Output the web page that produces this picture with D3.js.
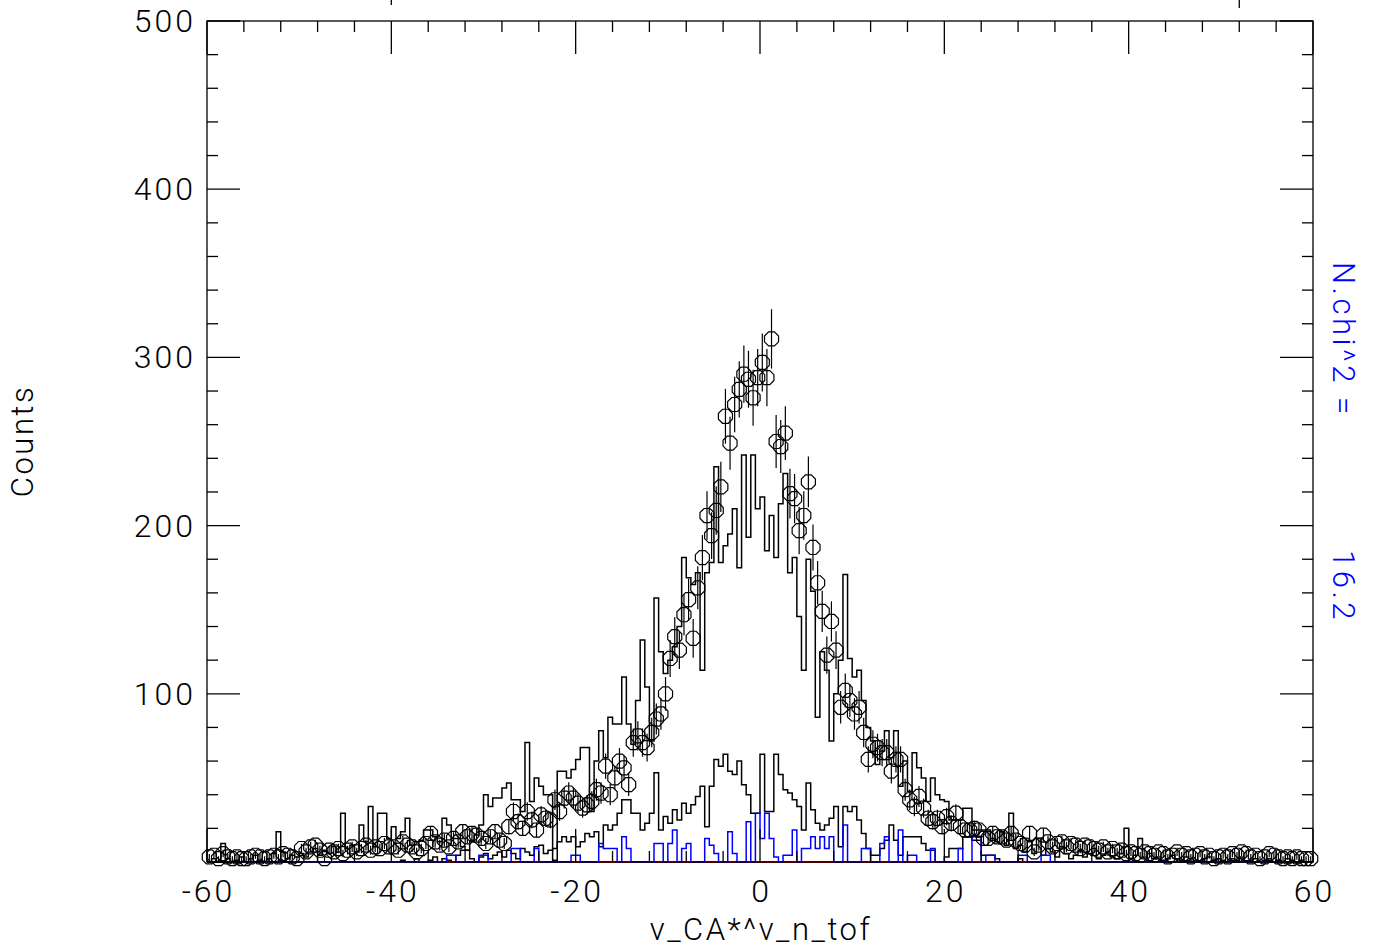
<!DOCTYPE html>
<html><head><meta charset="utf-8">
<script src="https://cdn.jsdelivr.net/npm/d3@7"></script>
<style>
html,body{margin:0;padding:0;background:#fff;}
svg text{font-family:"Roboto","DejaVu Sans",sans-serif;font-weight:300;}
</style></head>
<body><svg id="c" width="1377" height="951"></svg>
<script>
// ---- data (bins of width 0.5 from -60 to 60, 240 bins) ----
const xTicks = [-60, -40, -20, 0, 20, 40, 60];
const yTicks = [0, 100, 200, 300, 400, 500];
const yTickLabels = ["", "100", "200", "300", "400", "500"];
const binStart = -60, binWidth = 0.5;

// data points (circles with error bars)
const dataCounts = [
 3,4,2,5,3,2,3,2,2,3,4,3,2,3,4,3,5,4,3,2,
 8,6,9,10,7,2,7,6,8,5,7,9,6,8,10,7,9,8,11,9,
 9,7,12,10,9,6,8,11,17,12,10,13,9,14,12,18,15,17,16,14,
 11,15,18,13,11,21,30,24,20,30,25,19,28,26,25,37,30,38,41,38,
 35,32,34,36,43,41,57,40,50,60,56,46,71,75,71,68,77,85,88,100,
 121,134,126,147,156,133,163,181,206,194,209,223,265,249,272,281,290,287,276,288,
 297,288,311,250,247,255,219,216,197,206,226,187,166,149,123,143,126,92,102,96,
 88,92,77,61,70,68,65,65,54,61,61,43,37,33,39,32,26,24,26,21,
 27,23,29,21,19,19,20,19,14,14,17,15,15,13,17,13,11,10,17,6,
 10,16,12,9,11,12,9,11,10,8,10,9,8,7,9,6,8,6,7,5,
 6,5,4,6,5,4,6,5,3,4,6,4,5,3,4,5,3,4,2,3,
 4,3,5,4,6,5,3,4,2,3,5,4,3,2,3,2,3,2,2,2];

// large black histogram
const histMain = [
 0,2,0,11,2,0,1,3,0,2,4,1,0,2,5,18,6,2,4,3,
 5,3,6,8,4,7,5,9,6,29,8,10,6,22,12,33,9,29,29,14,
 21,14,18,26,10,12,13,19,19,15,12,26,22,14,14,9,7,12,16,22,
 40,33,38,38,44,47,37,37,30,71,36,50,45,40,40,1,54,54,50,55,
 61,68,68,30,60,78,62,86,82,82,110,82,70,96,132,104,72,157,125,112,
 120,128,140,181,169,165,172,114,172,178,235,178,188,195,210,175,242,193,242,210,
 217,185,206,181,213,231,172,181,146,114,180,161,86,125,114,72,100,120,171,121,
 110,114,96,80,72,58,66,78,62,78,45,60,42,65,56,50,36,50,40,37,
 36,25,25,25,32,32,19,19,19,19,14,12,18,10,29,8,10,6,12,5,
 14,4,8,6,3,9,5,2,4,7,3,5,8,2,4,6,3,2,5,20,
 2,4,14,3,5,2,3,1,2,4,2,1,3,2,1,0,2,3,1,2,
 1,0,2,1,3,0,1,2,0,1,2,0,1,0,2,1,0,1,0,0];

// small black histogram
const histSmall = [
 0,0,0,0,0,0,0,0,0,0,0,0,0,0,0,0,0,0,0,0,
 0,0,0,0,0,0,0,0,0,0,0,0,0,0,0,0,0,0,0,0,
 0,0,1,0,0,2,0,0,1,3,0,2,1,0,4,7,7,2,0,3,
 5,2,4,6,3,7,5,2,8,6,4,9,10,5,7,8,12,15,12,15,
 9,12,17,15,18,9,22,19,22,29,37,37,29,29,19,23,29,53,19,27,
 23,31,25,35,29,34,39,45,21,45,61,57,64,54,52,60,46,40,29,29,
 64,30,30,64,52,43,41,37,33,19,47,31,23,19,22,26,33,9,33,30,
 33,25,17,8,4,4,8,13,22,13,4,15,15,15,15,11,7,7,0,0,
 3,8,8,8,15,15,13,13,4,4,4,2,0,0,0,0,2,0,0,0,
 0,0,0,0,0,0,0,0,0,0,0,0,0,0,0,0,0,0,0,0,
 0,0,0,0,0,0,0,0,0,0,0,0,0,0,0,0,0,0,0,0,
 0,0,0,0,0,0,0,0,0,0,0,0,0,0,0,0,0,0,0,0];

// blue histogram
const histBlue = [
 0,0,0,0,0,0,0,0,0,0,0,0,0,0,0,0,0,0,0,0,
 0,0,0,0,0,0,0,0,0,0,0,0,0,0,0,0,0,0,0,0,
 0,0,0,0,0,0,0,0,0,0,0,0,4,4,0,0,0,0,0,4,
 4,0,0,0,0,0,8,8,0,0,0,8,0,0,0,0,0,0,0,4,
 4,0,0,0,0,11,8,8,8,0,15,8,0,0,0,0,0,11,11,0,
 11,19,0,8,11,0,0,0,14,10,5,0,0,18,5,0,0,24,0,29,
 14,29,14,3,0,4,4,19,0,8,8,15,8,15,8,15,0,0,22,0,
 0,0,8,8,0,0,11,15,0,0,19,0,4,4,0,0,0,8,0,0,
 0,0,0,8,0,0,15,15,0,4,4,0,0,0,0,0,4,4,0,0,
 0,4,4,0,0,0,0,0,0,0,0,0,0,0,0,0,0,0,0,0,
 0,0,0,0,0,0,0,0,0,0,0,0,0,0,0,0,0,0,0,0,
 0,0,0,0,0,0,0,0,0,0,0,0,0,0,0,0,0,0,0,0];

// red fit line (flat at zero)
const fitX = [-60, 60];
const fitY = [0, 0];

const xTitle = "v_CA*^v_n_tof";
const yTitle = "Counts";
const chiLabel = "N.chi^2 =";
const chiValue = "16.2";

// ---- layout ----
const svg = d3.select("#c");
const L = 207, T = 21, W = 1106, H = 841;
const x = d3.scaleLinear().domain([-60, 60]).range([L, L + W]);
const y = d3.scaleLinear().domain([0, 500]).range([T + H, T]);

// histogram step path
function stepPath(vals) {
  const pts = vals.map((v, i) => [binStart + i * binWidth, v]);
  pts.push([binStart + vals.length * binWidth, vals[vals.length - 1]]);
  return d3.line().x(d => x(d[0])).y(d => y(d[1])).curve(d3.curveStepAfter)(pts);
}

svg.append("path").attr("d", stepPath(histMain)).attr("fill", "none")
  .attr("stroke", "#000").attr("stroke-width", 1.5);
svg.append("path").attr("d", stepPath(histSmall)).attr("fill", "none")
  .attr("stroke", "#000").attr("stroke-width", 1.5);
svg.append("path").attr("d", d3.line().x((d, i) => x(fitX[i])).y((d, i) => y(fitY[i]))(fitX))
  .attr("fill", "none").attr("stroke", "#e00000").attr("stroke-width", 2);
svg.append("path").attr("d", stepPath(histBlue)).attr("fill", "none")
  .attr("stroke", "#0000ff").attr("stroke-width", 1.5);

// data points
const pts = dataCounts.map((v, i) => ({ x: binStart + (i + 0.5) * binWidth, v: v, e: Math.sqrt(v) }));
const g = svg.append("g");
g.selectAll("line.err").data(pts).join("line")
  .attr("x1", d => x(d.x)).attr("x2", d => x(d.x))
  .attr("y1", d => y(d.v - d.e)).attr("y2", d => y(d.v + d.e))
  .attr("stroke", "#000").attr("stroke-width", 1.2);
const r = 7.6;
const oct = d3.range(8).map(k => {
  const a = (22.5 + 45 * k) * Math.PI / 180;
  return [r * Math.cos(a), r * Math.sin(a)];
});
const octPath = d3.line()(oct) + "Z";
g.selectAll("path.pt").data(pts).join("path")
  .attr("d", octPath)
  .attr("transform", d => `translate(${x(d.x)},${y(d.v)})`)
  .attr("fill", "none").attr("stroke", "#000").attr("stroke-width", 1.2);

// frame
svg.append("rect").attr("x", L).attr("y", T).attr("width", W).attr("height", H)
  .attr("fill", "none").attr("stroke", "#000").attr("stroke-width", 1.3);

// ticks
const majLen = 33, minLen = 11;
const xMinor = d3.range(-60, 60.01, 4);
const yMinor = d3.range(0, 500.01, 20);
const tk = svg.append("g").attr("stroke", "#000").attr("stroke-width", 1.3);
xMinor.forEach(v => {
  const len = xTicks.includes(v) ? majLen : minLen;
  tk.append("line").attr("x1", x(v)).attr("x2", x(v)).attr("y1", T + H).attr("y2", T + H - len);
  tk.append("line").attr("x1", x(v)).attr("x2", x(v)).attr("y1", T).attr("y2", T + len);
});
yMinor.forEach(v => {
  const len = yTicks.includes(v) ? majLen : minLen;
  tk.append("line").attr("y1", y(v)).attr("y2", y(v)).attr("x1", L).attr("x2", L + len);
  tk.append("line").attr("y1", y(v)).attr("y2", y(v)).attr("x1", L + W).attr("x2", L + W - len);
});
// small marks at the very top edge (remnants of the panel above)
[-40, 52].forEach((v, k) => {
  tk.append("line").attr("x1", x(v)).attr("x2", x(v)).attr("y1", 0).attr("y2", k ? 8 : 5);
});

// tick labels
const fs = 32, ls = 3;
svg.selectAll("text.xt").data(xTicks).join("text")
  .attr("x", d => x(d) + ls / 2).attr("y", T + H + 40)
  .attr("text-anchor", "middle").attr("font-size", fs).attr("letter-spacing", ls)
  .text(d => d);
svg.selectAll("text.yt").data(yTicks).join("text")
  .attr("x", 193 + ls).attr("y", d => y(d) + 11)
  .attr("text-anchor", "end").attr("font-size", fs).attr("letter-spacing", ls)
  .text((d, i) => yTickLabels[i]);

// axis titles
svg.append("text").attr("x", 761).attr("y", 940).attr("text-anchor", "middle")
  .attr("font-size", 31).attr("letter-spacing", 2.5).text(xTitle);
svg.append("text").attr("transform", "translate(33,441) rotate(-90)")
  .attr("text-anchor", "middle").attr("font-size", 31).attr("letter-spacing", 2.5).text(yTitle);

// chi^2 annotation
svg.append("text").attr("transform", "translate(1333,262) rotate(90)")
  .attr("text-anchor", "start").attr("font-size", 31).attr("fill", "#0000ff")
  .attr("letter-spacing", 3.5).text(chiLabel);
svg.append("text").attr("transform", "translate(1333,550) rotate(90)")
  .attr("text-anchor", "start").attr("font-size", 31).attr("fill", "#0000ff")
  .attr("letter-spacing", 3.5).text(chiValue);
</script></body></html>
